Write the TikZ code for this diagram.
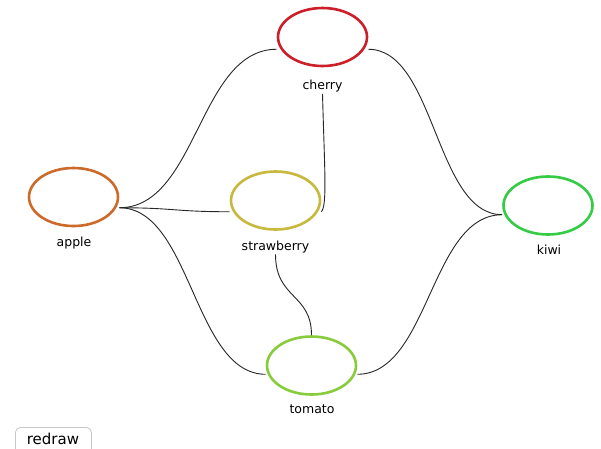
\documentclass[tikz,border=0pt]{standalone}
\usepackage{fontspec}
\setmainfont{DejaVu Sans}
\usetikzlibrary{fit,shapes.geometric}
\definecolor{cherryred}{HTML}{CC1F2A}
\definecolor{appleorange}{HTML}{CC6A2A}
\definecolor{strawyellow}{HTML}{C8B83C}
\definecolor{kiwigreen}{HTML}{33CC44}
\definecolor{tomatogreen}{HTML}{88CC3C}
\tikzset{
  fruit/.style={draw=#1, line width=2.6pt, ellipse, minimum width=89pt, minimum height=58pt, inner sep=0pt},
  fruitlabel/.style={anchor=base, font=\fontsize{12.5}{14}\selectfont, inner sep=0pt},
  group/.style={inner sep=0pt, outer sep=0pt},
  link/.style={draw=black!85, line width=0.9pt},
  button/.style={draw=black!22, line width=0.8pt, rounded corners=5pt, fill=white}
}
\begin{document}
\begin{tikzpicture}[x=1pt, y=-1pt]
\useasboundingbox (0,0) rectangle (601,448);
\fill[white] (0,0) rectangle (601,448);

% fruit ellipses with their names underneath
\node[fruit=cherryred]   (cherry)     at (322.5,37)  {};
\node[fruitlabel]        (cherrylbl)  at (322.5,89)  {cherry};
\node[fruit=appleorange] (apple)      at (73.5,197)  {};
\node[fruitlabel]        (applelbl)   at (74,246)    {apple};
\node[fruit=strawyellow] (strawberry) at (275.5,200.5) {};
\node[fruitlabel]        (strawlbl)   at (275.5,250.5) {strawberry};
\node[fruit=kiwigreen]   (kiwi)       at (548,205.5) {};
\node[fruitlabel]        (kiwilbl)    at (549,254)   {kiwi};
\node[fruit=tomatogreen] (tomato)     at (311.5,365.5) {};
\node[fruitlabel]        (tomatolbl)  at (312,413)   {tomato};

% each fruit with its label forms one group
\node[group, fit=(cherry)(cherrylbl)]      (cherryg) {};
\node[group, fit=(apple)(applelbl)]        (appleg)  {};
\node[group, fit=(strawberry)(strawlbl)]   (strawg)  {};
\node[group, fit=(kiwi)(kiwilbl)]          (kiwig)   {};
\node[group, fit=(tomato)(tomatolbl)]      (tomatog) {};

% links between groups
\draw[link] (appleg.east) .. controls +(78,0) and +(-78,0) .. (cherryg.west);
\draw[link] (appleg.east) .. controls +(55,0) and +(-55,0) .. (strawg.west);
\draw[link] (appleg.east) .. controls +(72,0) and +(-72,0) .. (tomatog.west);
\draw[link] (cherryg.east) .. controls +(67,0) and +(-67,0) .. (kiwig.west);
\draw[link] (tomatog.east) .. controls +(72,0) and +(-72,0) .. (kiwig.west);
\draw[link] (cherrylbl.south) ++(0,2) .. controls +(2,75) and +(6,-6) .. (strawg.east);
\draw[link] (strawlbl.south) ++(0,1) .. controls +(0,45) and +(0,-42) .. (tomato.north);

% redraw button
\node[button, minimum width=76pt, minimum height=30pt, anchor=north west] (redraw) at (15,427) {};
\node[anchor=base, font=\fontsize{15}{17}\selectfont, inner sep=0pt] (redrawlbl) at (53,444) {redraw};
\end{tikzpicture}
\end{document}
